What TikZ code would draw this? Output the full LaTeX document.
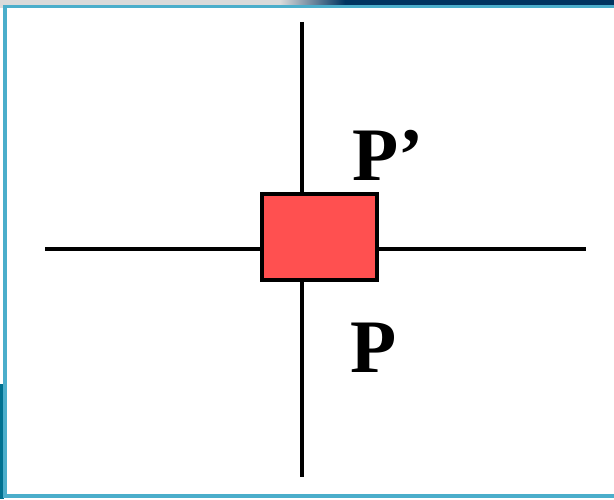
\documentclass[tikz,border=0pt]{standalone}
\usepackage{fontspec}
\setmainfont{Liberation Serif}
\definecolor{framebl}{RGB}{75,174,203}
\definecolor{slidenavy}{RGB}{0,52,96}
\definecolor{slidegray}{RGB}{218,218,218}
\definecolor{boxred}{RGB}{255,80,80}

\begin{document}
\begin{tikzpicture}[axis/.style={line width=1.9pt},
    lbl/.style={font=\fontsize{43}{43}\selectfont\bfseries, inner sep=0pt, anchor=base west}]
  \useasboundingbox (0,0) rectangle (12.28,9.98);

  % --- fondo de la diapositiva ---
  \fill[white] (0,0) rectangle (12.28,9.98);
  \fill[slidegray] (0,9.82) rectangle (6.6,9.98);
  \shade[left color=slidegray, right color=slidenavy] (5.6,9.82) rectangle (6.9,9.98);
  \fill[slidenavy] (6.9,9.82) rectangle (12.28,9.98);
  \fill[slidenavy!70!cyan] (0,0) rectangle (0.07,2.3);
  \draw[framebl, line width=1.9pt] (0.10,0.06) rectangle (12.6,9.85);

  % --- ejes ---
  \coordinate (top) at (6.04,9.54);
  \coordinate (bot) at (6.04,0.44);
  \coordinate (lft) at (0.90,5.00);
  \coordinate (rgt) at (11.72,5.00);
  \draw[axis] (top) -- (bot);
  \draw[axis] (lft) -- (rgt);

  % --- bloque rojo y etiquetas ---
  \node[draw, line width=2pt, fill=boxred, minimum width=2.30cm, minimum height=1.72cm,
        inner sep=0pt] (blk) at (6.39,5.24) {};
  \node[lbl] (pp) at (7.04,6.38) {P’};
  \node[lbl] (p) at (7.00,2.54) {P};
\end{tikzpicture}
\end{document}
